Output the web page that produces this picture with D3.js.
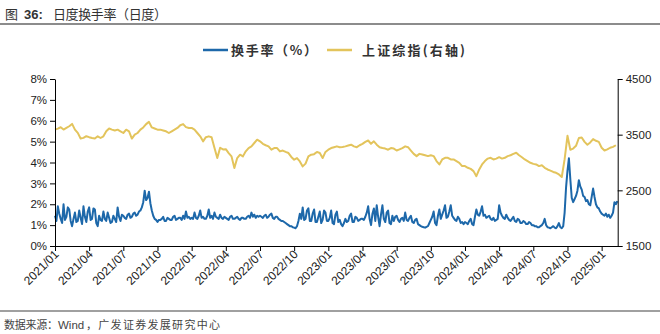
<!DOCTYPE html>
<html><head><meta charset="utf-8">
<script src="https://cdn.jsdelivr.net/npm/d3@7"></script>
<style>body{margin:0;background:#fff}</style>
</head><body><svg id="c" width="660" height="334"></svg>
<script>
const quarterLabels = ["2021/01","2021/04","2021/07","2021/10","2022/01","2022/04","2022/07","2022/10","2023/01","2023/04","2023/07","2023/10","2024/01","2024/04","2024/07","2024/10","2025/01"];
const ssePerQuarter = 12;
const turnoverPerQuarter = 24;
const leftTicks = [0,1,2,3,4,5,6,7,8];
const rightTicks = [1500,2500,3500,4500];
const seriesNames = ["换手率（%）","上证综指(右轴)"];

// daily turnover rate (%), sampled 24 per quarter
const turnover = [
1.45,1.20,1.90,1.55,1.30,1.10,2.00,1.25,1.40,1.85,1.75,1.20,0.95,1.30,1.60,1.15,1.20,1.70,1.35,1.05,1.90,1.40,1.15,1.65,
1.85,1.25,1.30,1.80,1.75,1.10,0.95,1.45,1.25,1.20,1.65,1.30,1.20,1.60,1.35,1.10,1.15,1.45,1.30,1.15,1.85,1.40,1.20,1.50,
1.45,1.35,1.30,1.50,1.55,1.35,1.40,1.55,1.60,1.45,1.50,1.65,1.70,1.85,2.10,2.65,2.20,2.30,2.60,2.05,1.70,1.45,1.30,1.25,
1.15,1.25,1.25,1.30,1.40,1.20,1.20,1.35,1.30,1.25,1.25,1.40,1.45,1.25,1.30,1.35,1.35,1.25,1.45,1.30,1.65,1.35,1.40,1.30,
1.35,1.30,1.60,1.35,1.30,1.45,1.70,1.35,1.40,1.30,1.30,1.45,1.75,1.35,1.45,1.30,1.60,1.40,1.35,1.30,1.50,1.35,1.30,1.40,
1.35,1.30,1.25,1.40,1.45,1.30,1.30,1.35,1.40,1.30,1.25,1.35,1.35,1.30,1.30,1.40,1.45,1.35,1.60,1.40,1.50,1.35,1.45,1.40,
1.45,1.40,1.35,1.45,1.50,1.35,1.40,1.50,1.55,1.35,1.30,1.40,1.40,1.30,1.25,1.20,1.20,1.15,1.10,1.05,1.00,0.95,0.95,0.90,
0.88,0.85,0.95,1.20,1.55,1.30,1.85,1.25,1.30,1.70,1.80,1.20,1.20,1.55,1.75,1.15,1.15,1.40,1.65,1.10,1.25,1.70,1.60,1.20,
1.20,1.35,1.70,1.10,1.05,1.50,1.65,1.15,1.25,1.05,0.95,1.10,1.30,1.15,1.20,1.45,1.55,1.15,1.15,1.40,1.35,1.20,1.25,1.30,
1.30,1.25,1.40,1.60,1.90,1.30,1.00,1.55,1.80,1.20,1.95,1.40,0.95,1.50,1.95,1.30,1.15,1.60,1.70,1.10,1.05,1.45,1.20,1.40,
1.45,1.25,1.15,1.30,1.35,1.20,1.60,1.25,1.20,1.35,1.45,1.15,1.10,1.25,1.30,1.05,1.00,0.95,0.92,0.90,0.88,0.92,0.95,1.10,
1.25,1.40,1.65,1.10,1.00,1.45,1.75,1.30,1.50,1.70,1.95,1.35,1.40,1.65,1.95,1.45,1.35,1.25,1.20,1.40,1.30,1.10,1.15,1.05,
1.15,1.10,1.05,1.20,1.30,1.05,1.00,1.40,1.75,1.50,1.45,1.65,1.90,1.45,1.50,1.35,1.40,1.45,1.30,1.25,1.35,1.20,1.25,1.30,
1.95,1.60,1.45,1.35,1.30,1.50,1.35,1.25,1.20,1.30,1.40,1.20,1.15,1.30,1.25,1.10,1.10,1.20,1.15,1.05,1.05,1.15,1.10,1.00,
1.00,0.95,0.95,0.90,0.90,0.95,1.00,1.10,1.30,1.00,0.90,0.88,0.85,0.90,0.95,0.88,0.85,0.95,1.10,0.90,0.85,0.95,1.60,2.80,
3.60,4.20,3.20,2.30,2.10,2.25,2.40,2.65,3.15,2.85,2.70,2.40,2.35,2.15,2.20,2.00,1.95,2.35,2.75,2.35,2.00,1.85,1.80,1.65,
1.55,1.50,1.45,1.55,1.40,1.50,1.35,1.45,1.60,2.10,2.00,2.15
];

// Shanghai Composite index, sampled 12 per quarter
const sse = [
3591,3609,3633,3591,3621,3651,3693,3591,3532,3430,3442,3472,
3455,3440,3430,3470,3440,3470,3560,3610,3590,3575,3590,3560,
3530,3590,3560,3430,3500,3530,3590,3630,3690,3730,3630,3610,
3590,3590,3575,3560,3530,3560,3590,3620,3670,3690,3635,3620,
3620,3590,3530,3470,3380,3455,3470,3455,3265,3080,3265,3235,
3240,3170,3110,2900,3080,3140,3110,3200,3260,3290,3350,3410,
3380,3335,3310,3290,3230,3260,3260,3200,3215,3190,3170,3100,
3050,3080,3020,2930,2980,3110,3140,3150,3190,3170,3080,3190,
3230,3260,3275,3290,3275,3280,3290,3305,3320,3290,3275,3310,
3335,3370,3395,3335,3380,3320,3275,3260,3250,3230,3260,3250,
3215,3235,3260,3290,3275,3215,3155,3115,3155,3145,3130,3115,
3130,3115,3025,2965,3055,3085,3085,3055,3055,3025,2995,2935,
2935,2905,2885,2845,2755,2875,2965,3025,3070,3085,3055,3070,
3095,3070,3085,3115,3130,3155,3175,3130,3095,3055,3025,2995,
2975,2965,2935,2950,2905,2875,2855,2830,2815,2785,2740,3060,
3480,3230,3250,3300,3440,3450,3370,3320,3360,3420,3390,3370,
3265,3215,3235,3265,3280,3310
];

const svg = d3.select("#c");
const W = 660, H = 334;
const m = {left:55, right:42.3, top:79, bottom:88};
const plotBottom = H - m.bottom; // 246
const plotRight = W - m.right;

const blue = "#1d68aa", yellow = "#e3c45c";
const latin = "'Liberation Sans', Arial, sans-serif";
const cjk = "'Noto Sans CJK SC', sans-serif";

// x measured in quarters since 2021/01
const x = d3.scaleLinear().domain([0, 16.47]).range([m.left, plotRight]);
const yL = d3.scaleLinear().domain([0, 8]).range([plotBottom, m.top]);
const yR = d3.scaleLinear().domain([1500, 4500]).range([plotBottom, m.top]);

// Title
svg.append("text").attr("x", 5).attr("y", 19).attr("font-size", 13).attr("fill", "#333").attr("font-family", cjk).text("图");
svg.append("text").attr("x", 24).attr("y", 19).attr("font-size", 13).attr("fill", "#333").attr("font-family", latin).attr("font-weight", "bold").text("36:");
svg.append("text").attr("x", 53).attr("y", 19).attr("font-size", 13).attr("fill", "#333").attr("font-family", cjk)
  .attr("textLength", 114).attr("lengthAdjust", "spacing").text("日度换手率（日度）");
svg.append("rect").attr("x", 0).attr("y", 23).attr("width", W).attr("height", 2).attr("fill", "#8c8c8c");

// Footer
svg.append("rect").attr("x", 0).attr("y", 310).attr("width", W).attr("height", 2).attr("fill", "#a0a0a0");
svg.append("text").attr("x", 4).attr("y", 329).attr("font-size", 11).attr("fill", "#444").attr("font-family", cjk)
  .attr("textLength", 54).attr("lengthAdjust", "spacing").text("数据来源：");
svg.append("text").attr("x", 58).attr("y", 329).attr("font-size", 11.5).attr("fill", "#444").attr("font-family", latin).text("Wind");
svg.append("text").attr("x", 86).attr("y", 329).attr("font-size", 11).attr("fill", "#444").attr("font-family", cjk)
  .attr("textLength", 134).attr("lengthAdjust", "spacing").text("，广发证券发展研究中心");

// Legend
const lg = svg.append("g").attr("font-family", cjk).attr("font-size", 13).attr("font-weight", "bold").attr("fill", "#333");
const legendItems = [
  {name: seriesNames[0], color: blue, x: 203, tx: 231, len: 86},
  {name: seriesNames[1], color: yellow, x: 327, tx: 362, len: 103}
];
legendItems.forEach(d => {
  lg.append("line").attr("x1", d.x).attr("x2", d.x + 25).attr("y1", 50).attr("y2", 50).attr("stroke", d.color).attr("stroke-width", 2.5);
  lg.append("text").attr("x", d.tx).attr("y", 55).attr("textLength", d.len).attr("lengthAdjust", "spacing").text(d.name);
});

// Lines
const lineR = d3.line().x((d,i) => x(i / ssePerQuarter)).y(d => yR(d));
const lineL = d3.line().x((d,i) => x(i / turnoverPerQuarter)).y(d => yL(d));
svg.append("path").datum(sse).attr("d", lineR).attr("fill", "none").attr("stroke", yellow).attr("stroke-width", 2).attr("stroke-linejoin", "round");
svg.append("path").datum(turnover).attr("d", lineL).attr("fill", "none").attr("stroke", blue).attr("stroke-width", 2).attr("stroke-linejoin", "round");

// Axes
function style(g, fs) {
  g.selectAll("path.domain").attr("stroke", "#000").attr("stroke-width", 1);
  g.selectAll(".tick line").attr("stroke", "#000");
  g.selectAll("text").attr("font-family", latin).attr("font-size", fs).attr("fill", "#222");
}
const axL = svg.append("g").attr("transform", `translate(${m.left},0)`)
  .call(d3.axisLeft(yL).tickValues(leftTicks).tickFormat(d => d + "%").tickSize(5).tickSizeOuter(0).tickPadding(3));
style(axL, 11.5);
const axR = svg.append("g").attr("transform", `translate(${plotRight},0)`)
  .call(d3.axisRight(yR).tickValues(rightTicks).tickFormat(d3.format("d")).tickSize(5).tickSizeOuter(0).tickPadding(3));
style(axR, 11.5);
const axB = svg.append("g").attr("transform", `translate(0,${plotBottom})`)
  .call(d3.axisBottom(x).tickValues(quarterLabels.map((d,i) => i))
    .tickFormat(v => quarterLabels[v]).tickSize(5).tickSizeOuter(0));
style(axB, 12);
axB.selectAll(".tick text").attr("text-anchor", "end").attr("dy", 0)
  .attr("transform", "translate(4,9) rotate(-45)").attr("y", 0).attr("x", 0);
</script>
</body></html>
